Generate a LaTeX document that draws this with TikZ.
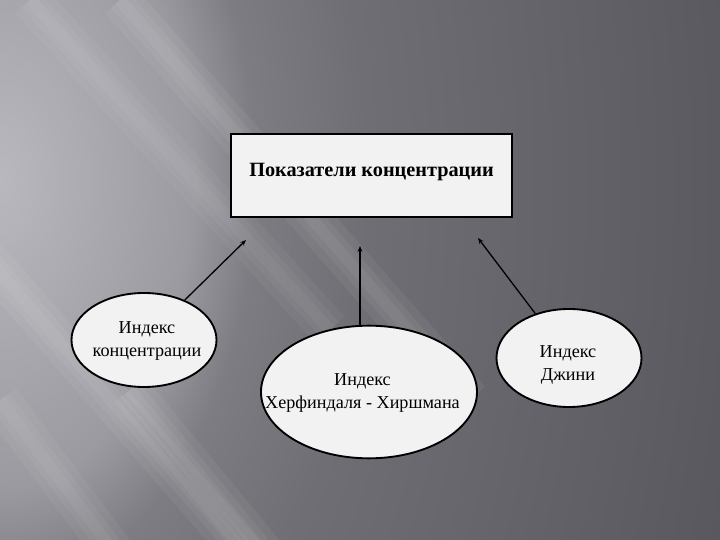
\documentclass[tikz,border=0pt]{standalone}
\usepackage{fontspec}
\setmainfont{Liberation Serif}
\usetikzlibrary{positioning, arrows.meta, shapes.geometric}
\definecolor{bgLight}{HTML}{B8B8BE}
\definecolor{bgSoft}{HTML}{A4A4AA}
\definecolor{bgMid}{HTML}{9A9AA0}
\definecolor{bgDim}{HTML}{7C7C82}
\definecolor{bgDeep}{HTML}{6E6E74}
\definecolor{bgDark}{HTML}{58585E}
\definecolor{paperFill}{HTML}{F2F2F2}
\pgfdeclareradialshading{slideglow}{\pgfpoint{0bp}{0bp}}{color(0bp)=(bgLight); color(4bp)=(bgSoft); color(6bp)=(bgMid); color(8bp)=(bgDim); color(11.5bp)=(bgDeep); color(23.5bp)=(bgDark); color(50bp)=(bgDark)}

\begin{document}
\begin{tikzpicture}[x=0.03cm, y=-0.03cm,
    box/.style={rectangle, draw=black, line width=1.6pt, fill=paperFill, minimum width=8.43cm, minimum height=2.5cm, inner sep=0pt, text depth=10pt, font=\fontsize{17.3}{20}\selectfont\bfseries},
    oval/.style={ellipse, draw=black, line width=1.6pt, fill=paperFill, inner sep=0pt},
    ovaltext/.style={align=center, inner sep=0pt, font=\fontsize{15.5}{18.8}\selectfont},
    link/.style={-{Stealth[length=5pt, width=4pt]}, black, line width=1.1pt}
  ]
  % background
  \begin{scope}
    \clip (0,0) rectangle (720,540);
    \shade[shading=slideglow] (0,180) ellipse [x radius=800, y radius=1280];
    \foreach \sx/\sy/\ex/\ey/\op in {120/0/470/400/0.05, 30/0/330/330/0.04, -20/250/250/560/0.05, 130/390/270/560/0.05, 0/400/120/560/0.045}
      \foreach \w in {10,20,34}
        \draw[white, opacity=\op, line width=\w pt] (\sx,\sy) -- (\ex,\ey);
  \end{scope}
  \useasboundingbox (0,0) rectangle (720,540);

  \node[box] (top) at (371.5,175.5) {Показатели концентрации};

  \node[oval, minimum width=4.35cm, minimum height=2.82cm] (conc) at (144,340) {};
  \node[oval, minimum width=6.48cm, minimum height=3.98cm] (hh) at (369,392) {};
  \node[oval, minimum width=4.35cm, minimum height=2.94cm] (gini) at (569,358) {};

  \node[ovaltext] (concText) at (147,341) {Индекс\\концентрации};
  \node[ovaltext] (hhText) at (362.5,393) {Индекс\\Херфиндаля - Хиршмана};
  \node[ovaltext] (giniText) at (568,365) {Индекс\\Джини};

  \coordinate (tipA) at (246,240);
  \coordinate (tipB) at (360,246);
  \coordinate (tipC) at (478,238);

  \draw[link] (conc) -- (tipA);
  \draw[link] (tipB |- hh.north) -- (tipB);
  \draw[link] (gini) -- (tipC);
\end{tikzpicture}
\end{document}
